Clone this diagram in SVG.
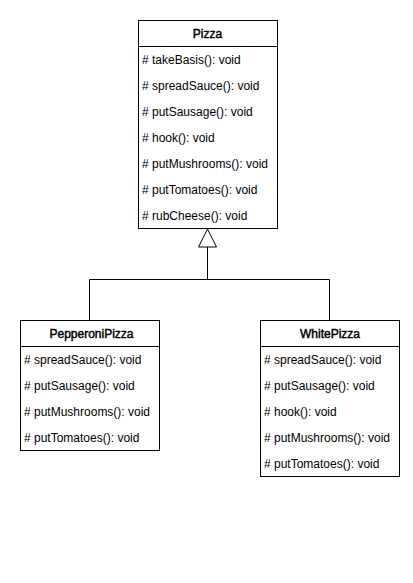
<svg xmlns="http://www.w3.org/2000/svg" width="413" height="583" viewBox="0 0 413 583">
<style>
.box{fill:#fff;stroke:#000;stroke-width:1}
.sep{stroke:#000;stroke-width:1}
.t{font-family:"Liberation Sans",Arial,sans-serif;font-size:12px;fill:#000}
.h{font-family:"Liberation Sans",Arial,sans-serif;font-size:12px;fill:#000;stroke:#000;stroke-width:0.45;text-anchor:middle}
.edge{fill:none;stroke:#000;stroke-width:1}
</style>
<rect width="413" height="583" fill="#fff"/>
<g id="connectors">
<path class="edge" d="M89.5,320 V279.5 H329.5 V320"/>
<path class="edge" d="M207.5,279.5 V247"/>
<polygon points="207.5,229 198.5,247 216.5,247" fill="#fff" stroke="#000" stroke-width="1"/>
</g>
<g id="Pizza">
<rect class="box" x="138.5" y="20.5" width="139" height="208"/>
<line class="sep" x1="138.5" y1="46.5" x2="277.5" y2="46.5"/>
<text class="h" x="207.5" y="38">Pizza</text>
<text class="t" x="142" y="64"># takeBasis(): void</text>
<text class="t" x="142" y="90"># spreadSauce(): void</text>
<text class="t" x="142" y="116"># putSausage(): void</text>
<text class="t" x="142" y="142"># hook(): void</text>
<text class="t" x="142" y="168"># putMushrooms(): void</text>
<text class="t" x="142" y="194"># putTomatoes(): void</text>
<text class="t" x="142" y="220"># rubCheese(): void</text>
</g>
<g id="PepperoniPizza">
<rect class="box" x="20.5" y="320.5" width="139" height="130"/>
<line class="sep" x1="20.5" y1="346.5" x2="159.5" y2="346.5"/>
<text class="h" x="91.5" y="338">PepperoniPizza</text>
<text class="t" x="24" y="364"># spreadSauce(): void</text>
<text class="t" x="24" y="390"># putSausage(): void</text>
<text class="t" x="24" y="416"># putMushrooms(): void</text>
<text class="t" x="24" y="442"># putTomatoes(): void</text>
</g>
<g id="WhitePizza">
<rect class="box" x="260.5" y="320.5" width="139" height="156"/>
<line class="sep" x1="260.5" y1="346.5" x2="399.5" y2="346.5"/>
<text class="h" x="330" y="338">WhitePizza</text>
<text class="t" x="264" y="364"># spreadSauce(): void</text>
<text class="t" x="264" y="390"># putSausage(): void</text>
<text class="t" x="264" y="416"># hook(): void</text>
<text class="t" x="264" y="442"># putMushrooms(): void</text>
<text class="t" x="264" y="468"># putTomatoes(): void</text>
</g>
</svg>
